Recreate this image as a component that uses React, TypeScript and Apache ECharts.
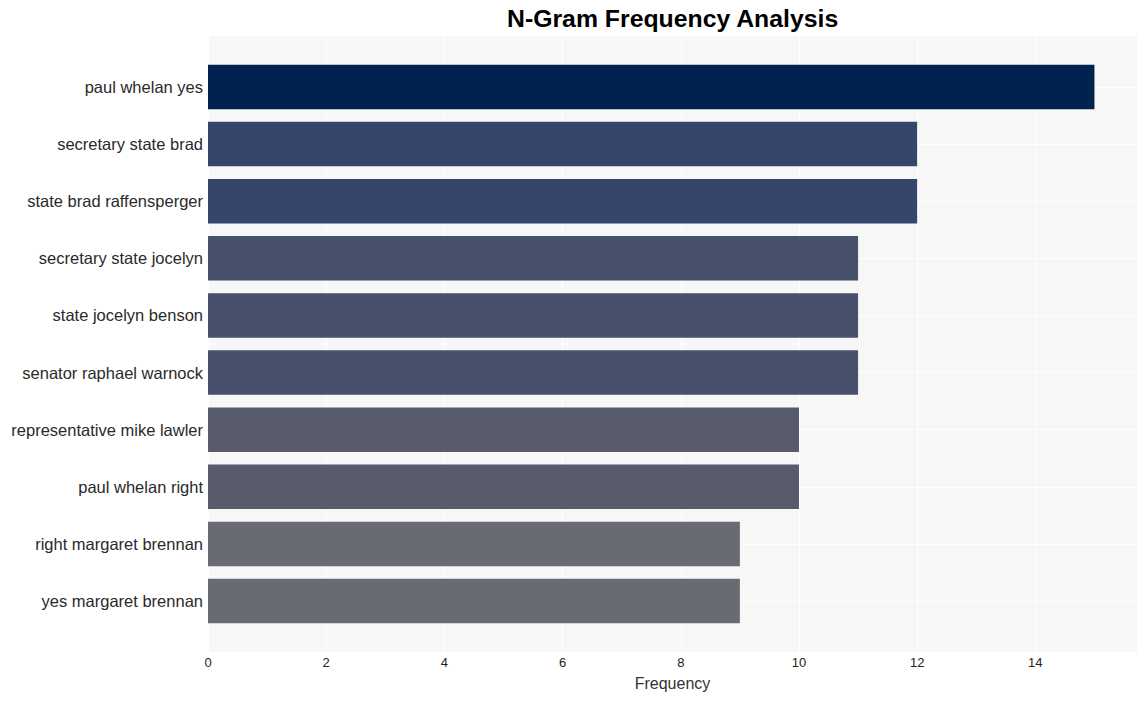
import React, { useEffect, useRef } from "react";
import * as echarts from "echarts";

const categories = [
  "paul whelan yes",
  "secretary state brad",
  "state brad raffensperger",
  "secretary state jocelyn",
  "state jocelyn benson",
  "senator raphael warnock",
  "representative mike lawler",
  "paul whelan right",
  "right margaret brennan",
  "yes margaret brennan",
];
const values = [15, 12, 12, 11, 11, 11, 10, 10, 9, 9];
const barColors = [
  "#00224e",
  "#35456c",
  "#35456c",
  "#48516b",
  "#48516b",
  "#48516b",
  "#575b6c",
  "#575b6c",
  "#696b73",
  "#696b73",
];
const xMax = 15.72;
const xInterval = 2;

export default function App() {
  const ref = useRef<HTMLDivElement>(null);
  useEffect(() => {
    if (!ref.current) return;
    const chart = echarts.init(ref.current, null, { renderer: "svg" });
    const font = "'Liberation Sans', Arial, Helvetica, sans-serif";
    chart.setOption({
      animation: false,
      backgroundColor: "#ffffff",
      textStyle: { fontFamily: font },
      title: {
        text: "N-Gram Frequency Analysis",
        left: 502,
        top: 1,
        textStyle: { fontSize: 24.8, fontWeight: "bold", color: "#000000", fontFamily: font },
      },
      grid: [
        {
          left: 208,
          top: 36,
          width: 929,
          height: 616,
          show: true,
          backgroundColor: "#f7f7f7",
          borderWidth: 0,
        },
        {
          left: 208,
          top: 58.45,
          width: 929,
          height: 571.1,
          show: false,
        },
      ],
      xAxis: [
        {
          gridIndex: 0,
          type: "value",
          min: 0,
          max: xMax,
          interval: xInterval,
          axisLine: { show: false },
          axisTick: { show: false },
          splitLine: { show: true, lineStyle: { color: "#ffffff", width: 1.2 } },
          axisLabel: {
            showMaxLabel: false,
            fontSize: 13,
            color: "#222222",
            margin: 4,
            fontFamily: font,
          },
          name: "Frequency",
          nameLocation: "middle",
          nameGap: 23,
          nameTextStyle: { fontSize: 16, color: "#333333", fontFamily: font },
        },
        {
          gridIndex: 1,
          type: "value",
          min: 0,
          max: xMax,
          show: false,
        },
      ],
      yAxis: [
        {
          gridIndex: 0,
          type: "value",
          show: false,
          splitLine: { show: false },
        },
        {
          gridIndex: 1,
          type: "category",
          inverse: true,
          data: categories,
          axisLine: { show: false },
          axisTick: { show: false },
          splitLine: {
            show: true,
            alignWithLabel: true,
            lineStyle: { color: "#ffffff", width: 1.2 },
          },
          axisLabel: {
            fontSize: 16.5,
            color: "#2a2a2a",
            margin: 5,
            fontFamily: font,
          },
        },
      ],
      series: [
        {
          type: "bar",
          xAxisIndex: 1,
          yAxisIndex: 1,
          barWidth: 44.5,
          data: values.map((v, i) => ({ value: v, itemStyle: { color: barColors[i] } })),
        },
      ],
    });
    return () => chart.dispose();
  }, []);
  return (
    <div
      ref={ref}
      style={{ position: "fixed", left: 0, top: 0, width: 1148, height: 701 }}
    />
  );
}
